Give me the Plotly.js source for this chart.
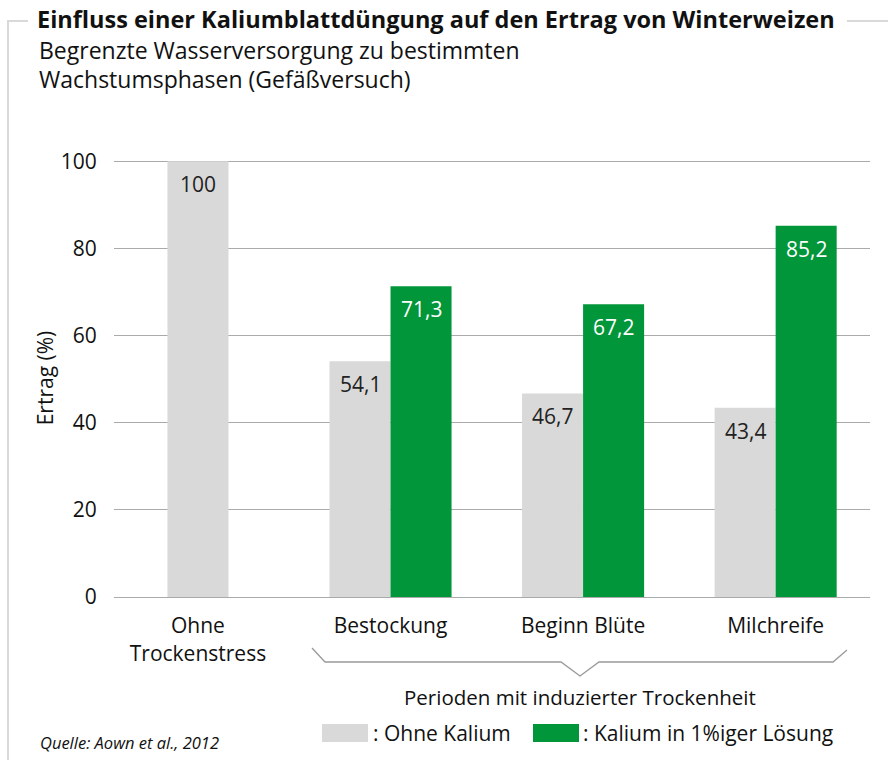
<!DOCTYPE html>
<html>
<head>
<meta charset="utf-8">
<script src="https://cdn.plot.ly/plotly-3.0.1.min.js"></script>
<style>html,body{margin:0;padding:0;background:#fff;}#chart{width:888px;height:760px;}</style>
</head>
<body>
<div id="chart"></div>
<script>
// ---- data ----
const categories = ["Ohne<br>Trockenstress", "Bestockung", "Beginn Blüte", "Milchreife"];
const ohneKalium = [100, 54.1, 46.7, 43.4];
const mitKaliumCats = ["Bestockung", "Beginn Blüte", "Milchreife"];
const mitKalium = [71.3, 67.2, 85.2];
const seriesNames = [": Ohne Kalium", ": Kalium in 1%iger Lösung"];
const yTicks = [0, 20, 40, 60, 80, 100];

const titleText = "Einfluss einer Kaliumblattdüngung auf den Ertrag von Winterweizen";
const subtitle1 = "Begrenzte Wasserversorgung zu bestimmten";
const subtitle2 = "Wachstumsphasen (Gefäßversuch)";
const groupLabel = "Perioden mit induzierter Trockenheit";
const sourceText = "Quelle: Aown et al., 2012";

// ---- style ----
const FONT = "'Open Sans', 'Noto Sans', sans-serif";
const GRAY = "#d9d9d9";
const GREEN = "#009639";
const W = 0.317;
const L = 114, R = 870, T = 159, B = 597;
const PXPERCAT = 192.5;
const px = x => (x - L) / (R - L);
const py = y => (B - y) / (B - T);
const fmt = v => Number.isInteger(v) ? String(v) : v.toFixed(1).replace('.', ',');

const grayOffsets = categories.map((c, i) => i === 0 ? -W / 2 : -W);

const traces = [
  {type: 'bar', x: categories, y: ohneKalium, name: seriesNames[0],
   marker: {color: GRAY}, width: W, offset: grayOffsets, hoverinfo: 'skip'},
  {type: 'bar', x: mitKaliumCats, y: mitKalium, name: seriesNames[1],
   marker: {color: GREEN}, width: W, offset: 0, hoverinfo: 'skip'}
];

const annotations = [];
categories.forEach((c, i) => {
  const shift = i === 0 ? 0 : -W / 2;
  annotations.push({x: c, y: ohneKalium[i], xref: 'x', yref: 'y', text: fmt(ohneKalium[i]),
    showarrow: false, yanchor: 'middle', yshift: -23, xshift: shift * PXPERCAT,
    font: {family: FONT, size: 21, color: '#222'}});
});
mitKaliumCats.forEach((c, i) => {
  annotations.push({x: c, y: mitKalium[i], xref: 'x', yref: 'y', text: fmt(mitKalium[i]),
    showarrow: false, yanchor: 'middle', yshift: -23, xshift: (W / 2) * PXPERCAT,
    font: {family: FONT, size: 21, color: '#fff'}});
});
annotations.push(
  {xref: 'paper', yref: 'paper', x: px(37), y: py(50), xanchor: 'left', yanchor: 'middle',
   text: subtitle1, showarrow: false, font: {family: FONT, size: 23, color: '#111'}},
  {xref: 'paper', yref: 'paper', x: px(37), y: py(79), xanchor: 'left', yanchor: 'middle',
   text: subtitle2, showarrow: false, font: {family: FONT, size: 23, color: '#111'}},
  {xref: 'paper', yref: 'paper', x: px(580), y: py(697), xanchor: 'center', yanchor: 'middle',
   text: groupLabel, showarrow: false, font: {family: FONT, size: 20.5, color: '#111'}},
  {xref: 'paper', yref: 'paper', x: px(371), y: py(733), xanchor: 'left', yanchor: 'middle',
   text: seriesNames[0], showarrow: false, font: {family: FONT, size: 21, color: '#111'}},
  {xref: 'paper', yref: 'paper', x: px(581), y: py(733), xanchor: 'left', yanchor: 'middle',
   text: seriesNames[1], showarrow: false, font: {family: FONT, size: 21, color: '#111'}},
  {xref: 'paper', yref: 'paper', x: px(38), y: py(742), xanchor: 'left', yanchor: 'middle',
   text: '<i>' + sourceText + '</i>', showarrow: false, font: {family: FONT, size: 16.5, color: '#111'}}
);

const lineC = '#d9d9d9';
const shapes = [
  {type: 'line', xref: 'paper', yref: 'paper', x0: px(8), x1: px(8), y0: py(21), y1: py(762), line: {color: lineC, width: 2}},
  {type: 'line', xref: 'paper', yref: 'paper', x0: px(7), x1: px(28), y0: py(21), y1: py(21), line: {color: lineC, width: 2}},
  {type: 'line', xref: 'paper', yref: 'paper', x0: px(847), x1: px(888), y0: py(21), y1: py(21), line: {color: lineC, width: 2}},
  {type: 'path', xref: 'paper', yref: 'paper',
   path: `M ${px(312)} ${py(648)} L ${px(325)} ${py(662)} L ${px(561)} ${py(662)} L ${px(580)} ${py(676)} L ${px(599)} ${py(662)} L ${px(833)} ${py(662)} L ${px(847)} ${py(650)}`,
   line: {color: '#999', width: 1.3}},
  {type: 'rect', xref: 'paper', yref: 'paper', x0: px(322), x1: px(368), y0: py(724), y1: py(742), fillcolor: GRAY, line: {width: 0}},
  {type: 'rect', xref: 'paper', yref: 'paper', x0: px(533), x1: px(579), y0: py(724), y1: py(742), fillcolor: GREEN, line: {width: 0}}
];

const layout = {
  width: 888, height: 760,
  margin: {l: L, r: 888 - R, t: T, b: 760 - B, pad: 0},
  paper_bgcolor: '#fff', plot_bgcolor: '#fff',
  font: {family: FONT, size: 21, color: '#111'},
  title: {text: '<b>' + titleText + '</b>', xref: 'container', yref: 'container',
    x: 37 / 888, xanchor: 'left', y: 1 - 20 / 760, yanchor: 'middle',
    font: {family: FONT, size: 23.5, color: '#111'}},
  barmode: 'overlay',
  showlegend: false,
  xaxis: {type: 'category', range: [-0.436, 3.49], showgrid: false, zeroline: false, showline: false,
    ticks: 'outside', ticklen: 10, tickcolor: 'rgba(0,0,0,0)', tickfont: {family: FONT, size: 21, color: '#111'},
    fixedrange: true},
  yaxis: {range: [0, 100.5], tickvals: yTicks, showgrid: true, gridcolor: '#aaa', gridwidth: 1,
    zeroline: true, zerolinecolor: '#aaa', zerolinewidth: 1, showline: false,
    ticks: 'outside', ticklen: 12, tickcolor: 'rgba(0,0,0,0)', tickfont: {family: FONT, size: 21, color: '#111'},
    title: {text: 'Ertrag (%)', standoff: 1, font: {family: FONT, size: 21, color: '#111'}}, fixedrange: true},
  annotations: annotations,
  shapes: shapes
};

Plotly.newPlot('chart', traces, layout, {staticPlot: true, displayModeBar: false});
</script>
</body>
</html>
